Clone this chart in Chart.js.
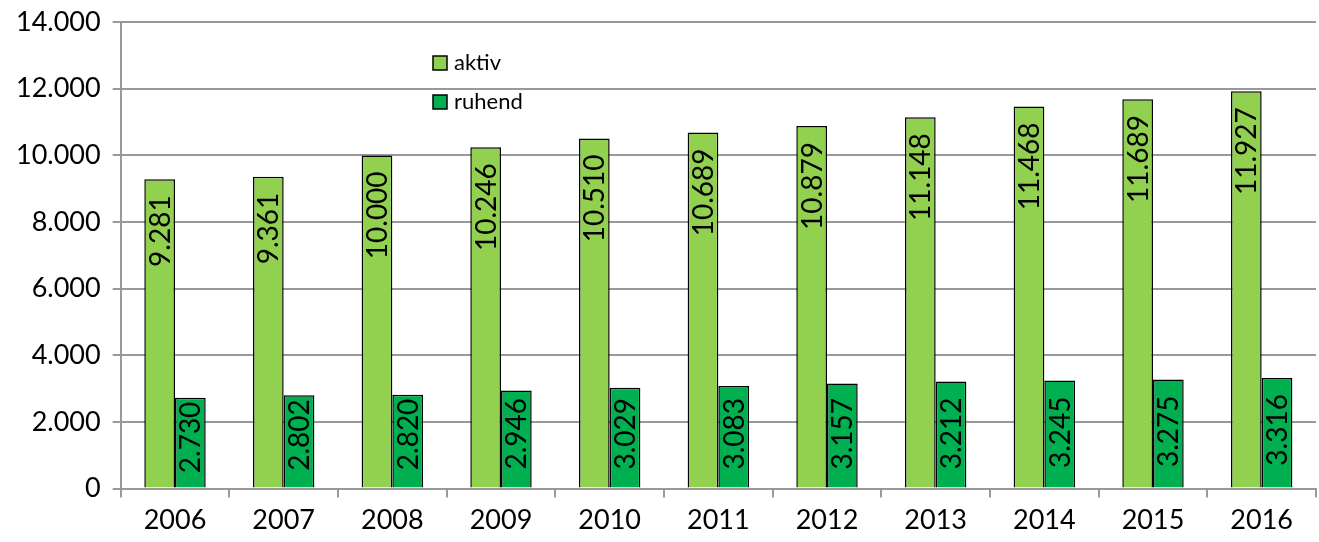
<!DOCTYPE html>
<html>
<head>
<meta charset="utf-8">
<script src="https://cdn.jsdelivr.net/npm/chart.js@4"></script>
<style>
  html, body { margin: 0; padding: 0; background: #fff; }
  #wrap { width: 1319px; height: 542px; }
</style>
</head>
<body>
<div id="wrap"><canvas id="chart"></canvas></div>
<script>
const years = ['2006', '2007', '2008', '2009', '2010', '2011', '2012', '2013', '2014', '2015', '2016'];
const aktiv = [9281, 9361, 10000, 10246, 10510, 10689, 10879, 11148, 11468, 11689, 11927];
const ruhend = [2730, 2802, 2820, 2946, 3029, 3083, 3157, 3212, 3245, 3275, 3316];

const fmt = v => v.toLocaleString('de-DE');
const FONT = 'Lato';

// labels rotated inside the bars, near the top end
const barLabels = {
    id: 'barLabels',
    afterDatasetsDraw(chart) {
        const ctx = chart.ctx;
        ctx.save();
        ctx.font = '28px ' + FONT;
        ctx.fillStyle = '#000';
        ctx.textBaseline = 'middle';
        ctx.textAlign = 'right';
        chart.data.datasets.forEach((ds, i) => {
            chart.getDatasetMeta(i).data.forEach((bar, j) => {
                const txt = fmt(ds.data[j]);
                const len = ctx.measureText(txt).width;
                const h = bar.base - bar.y;
                const gap = Math.max(4, Math.min(16, h - len - 18));
                ctx.save();
                ctx.translate(bar.x + 1, bar.y + gap);
                ctx.rotate(-Math.PI / 2);
                ctx.fillText(txt, 0, 0);
                ctx.restore();
            });
        });
        ctx.restore();
    }
};

// legend inside the plot area
const innerLegend = {
    id: 'innerLegend',
    afterDraw(chart) {
        const ctx = chart.ctx;
        ctx.save();
        ctx.font = '22px ' + FONT;
        ctx.textBaseline = 'middle';
        ctx.textAlign = 'left';
        chart.data.datasets.forEach((ds, i) => {
            const y = 63 + i * 39;
            ctx.fillStyle = ds.backgroundColor;
            ctx.fillRect(433, y - 7, 14, 14);
            ctx.strokeStyle = '#000';
            ctx.lineWidth = 1.5;
            ctx.strokeRect(433, y - 7, 14, 14);
            ctx.fillStyle = '#000';
            ctx.fillText(ds.label, 454, y);
        });
        ctx.restore();
    }
};

new Chart(document.getElementById('chart'), {
    type: 'bar',
    data: {
        labels: years,
        datasets: [{
            label: 'aktiv',
            data: aktiv,
            backgroundColor: '#92D050',
            borderColor: '#000',
            borderWidth: 1.5,
            barPercentage: 1,
            categoryPercentage: 0.565
        }, {
            label: 'ruhend',
            data: ruhend,
            backgroundColor: '#00B050',
            borderColor: '#000',
            borderWidth: 1.5,
            barPercentage: 1,
            categoryPercentage: 0.565
        }]
    },
    options: {
        responsive: true,
        maintainAspectRatio: false,
        animation: false,
        layout: { padding: { top: 0, right: 3, left: 4, bottom: 0 } },
        plugins: {
            legend: { display: false },
            tooltip: { enabled: false }
        },
        scales: {
            x: {
                grid: {
                    drawOnChartArea: false,
                    drawTicks: true,
                    tickLength: 9,
                    color: '#999',
                    lineWidth: 2
                },
                border: { color: '#999', width: 2 },
                ticks: {
                    color: '#000',
                    font: { family: FONT, size: 27 },
                    padding: 6,
                    maxRotation: 0
                }
            },
            y: {
                min: 0,
                max: 14000,
                grid: {
                    color: '#999',
                    lineWidth: 2,
                    tickLength: 8
                },
                border: { color: '#999', width: 2 },
                ticks: {
                    stepSize: 2000,
                    color: '#000',
                    font: { family: FONT, size: 27, lineHeight: 0.75 },
                    padding: 12,
                    callback: v => fmt(v)
                }
            }
        }
    },
    plugins: [barLabels, innerLegend]
});
</script>
</body>
</html>
